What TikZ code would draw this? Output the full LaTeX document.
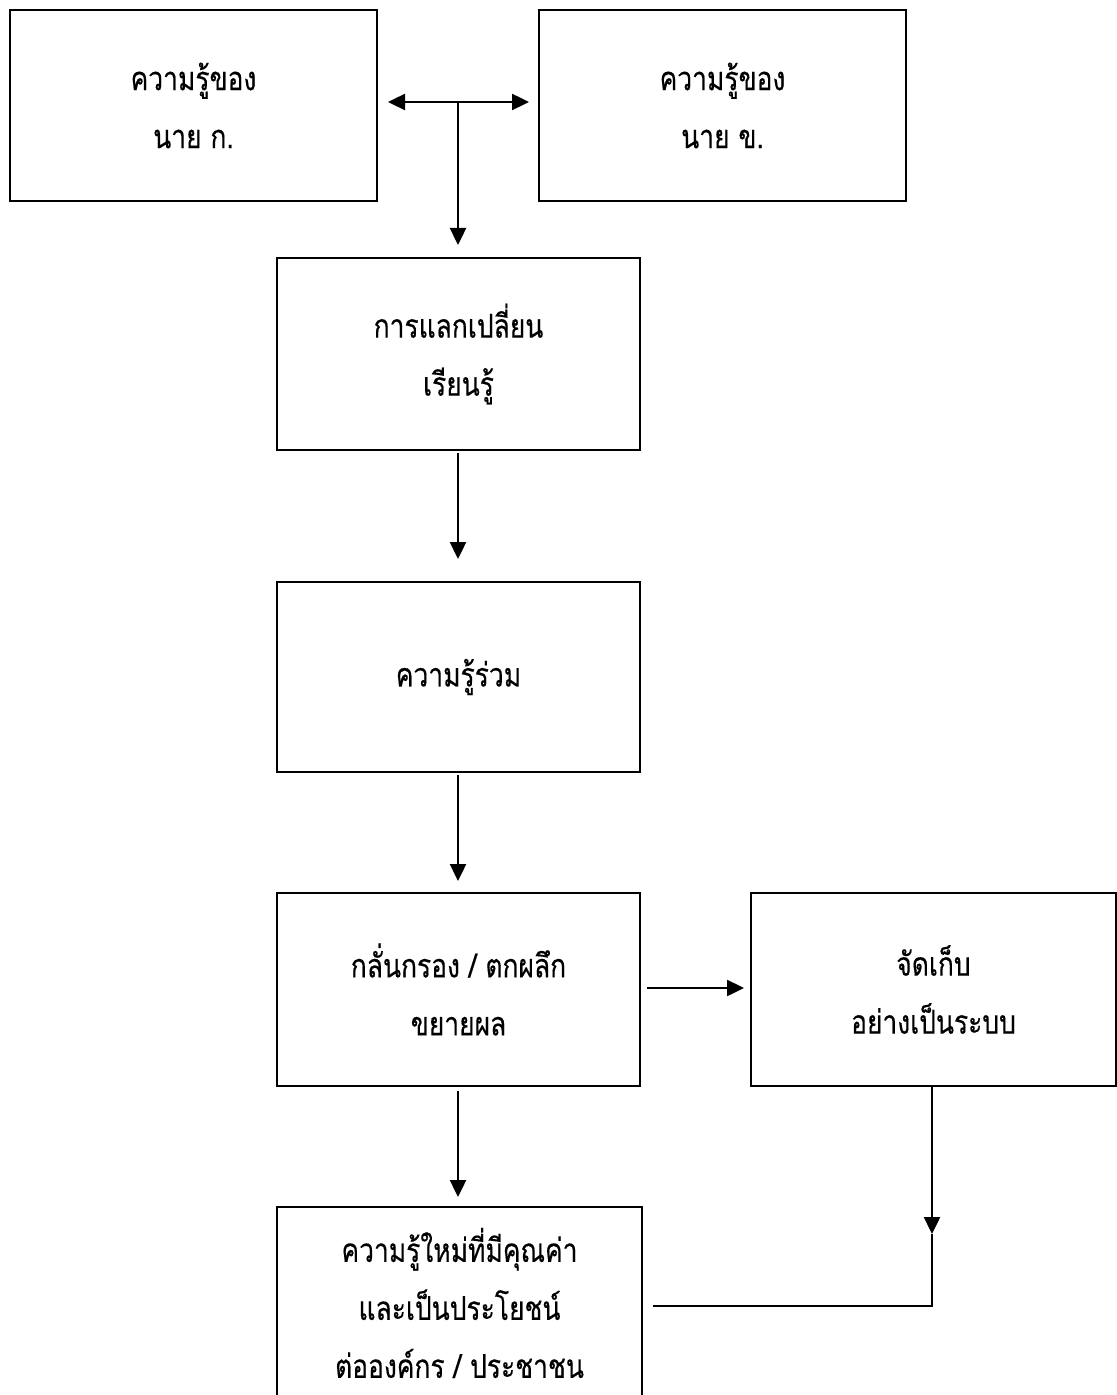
\documentclass[tikz,border=0pt]{standalone}
\usepackage{fontspec}
\newfontfamily\thaifont[Script=Thai,FakeStretch=0.8,FakeBold=0.35]{Loma}
\usetikzlibrary{arrows.meta,calc}
\tikzset{
  box/.style={draw, line width=1pt, minimum width=181.5pt, minimum height=95.5pt, align=center, inner sep=0pt,
    font=\thaifont\fontsize{16.5}{29}\selectfont},
  arr/.style={line width=1.2pt, -{Triangle[length=8.5pt,width=8pt]}},
  dbl/.style={line width=1.2pt, {Triangle[length=8.5pt,width=8pt]}-{Triangle[length=8.5pt,width=8pt]}},
  plain/.style={line width=1.2pt}
}
\begin{document}
\begin{tikzpicture}[x=0.5pt,y=-0.5pt]
\useasboundingbox[fill=white] (0,0) rectangle (1116,1395);
\node[box, minimum width=183.5pt] (A) at (193.5,105.5) {ความรู้ของ\\นาย ก.};
\node[box, minimum width=183.5pt] (B) at (722.5,105.5) {ความรู้ของ\\นาย ข.};
\node[box, minimum height=96pt] (C) at (458.5,354) {การแลกเปลี่ยน\\เรียนรู้};
\node[box, minimum height=95pt] (D) at (458.5,677) {ความรู้ร่วม};
\node[box, minimum height=96.5pt] (E) at (458.5,989.5) {กลั่นกรอง / ตกผลึก\\ขยายผล};
\node[box, minimum width=182.5pt, minimum height=96.5pt] (F) at (933.5,989.5) {จัดเก็บ\\อย่างเป็นระบบ};
\node[box, minimum width=182.5pt, minimum height=96pt] (G) at (459.5,1303) {ความรู้ใหม่ที่มีคุณค่า\\และเป็นประโยชน์\\ต่อองค์กร / ประชาชน};
\coordinate (j) at (458,102);
\draw[dbl] ($(j -| A.east)+(10,0)$) -- ($(j -| B.west)+(-9,0)$);
\draw[arr] (j) -- ($(C.north)+(-0.5,-12)$);
\draw[arr] ($(C.south)+(-0.5,2)$) -- ($(D.north)+(-0.5,-22)$);
\draw[arr] ($(D.south)+(-0.5,2)$) -- ($(E.north)+(-0.5,-11)$);
\draw[arr] ($(E.east)+(6,-1.5)$) -- ($(F.west)+(-6,-1.5)$);
\draw[arr] ($(E.south)+(-0.5,4)$) -- ($(G.north)+(-1.5,-9)$);
\coordinate (m) at (932,1234);
\coordinate (k) at (932,1306);
\coordinate (e) at ($(G.east |- k)+(10,0)$);
\draw[arr] ($(F.south)+(-1.5,0)$) -- (m);
\draw[plain] (m) -- (k) -- (e);
\end{tikzpicture}
\end{document}
